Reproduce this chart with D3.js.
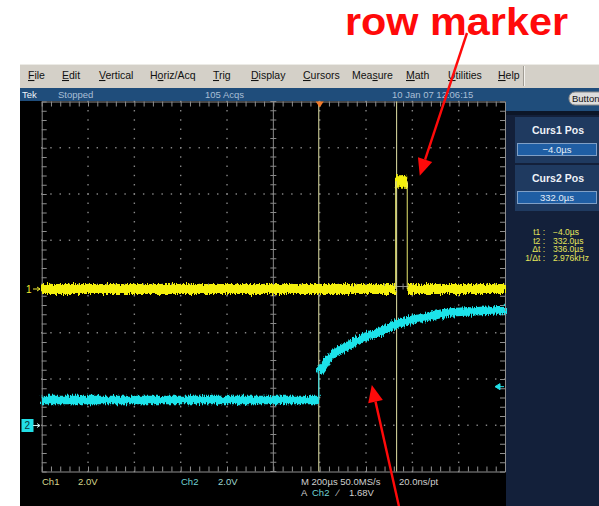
<!DOCTYPE html>
<html>
<head>
<meta charset="utf-8">
<script src="https://cdn.jsdelivr.net/npm/d3@7"></script>
<style>
  body { margin: 0; background: #fff; }
  svg { display: block; }
  text { font-family: "Liberation Sans", Arial, sans-serif; }
</style>
</head>
<body>
<svg id="scope" width="599" height="506"></svg>
<script>
// Channel 1 (yellow): row-marker pulse, time in µs, level in volts
const ch1Time  = [-1200, 328, 328, 378, 378, 800];
const ch1Volts = [0, 0, 4.65, 4.65, 0, 0];

// Channel 2 (cyan): step at the trigger, then the charging curve
const ch2Time  = [-1200, -4, -4, 20, 43, 85, 129, 172, 215, 258, 327, 388, 431, 500, 561, 669, 800];
const ch2Volts = [1.10, 1.10, 2.30, 2.62, 2.95, 3.25, 3.48, 3.73, 3.90, 4.04, 4.37, 4.55, 4.63, 4.78, 4.89, 4.94, 5.00];

const cursorTimes = [-4, 332];
const triggerLevel = 1.68;
const timeWindow = [-1200, 800];   // 10 div × 200 µs
const voltsPerDiv = 2;

const menuItems   = ["File", "Edit", "Vertical", "Horiz/Acq", "Trig", "Display", "Cursors", "Measure", "Math", "Utilities", "Help"];
const menuHotkeys = [0, 0, 0, 1, 0, 0, 0, 3, 0, 0, 0];
const readoutLabels = ["t1 :", "t2 :", "\u0394t :", "1/\u0394t :"];

const svg = d3.select("#scope");

// ---- graticule geometry
const gLeft = 41.7, gRight = 505, gTop = 101.5, gBottom = 471.5;
const divX = d3.scaleLinear().domain([0, 10]).range([gLeft, gRight]);
const divY = d3.scaleLinear().domain([0, 8]).range([gTop, gBottom]);
const divPx = (gBottom - gTop) / 8;

const x = d3.scaleLinear().domain(timeWindow).range([gLeft, gRight]);
const ch1Ground = 289, ch2Ground = 425.5;
const y1 = d3.scaleLinear().domain([0, voltsPerDiv]).range([ch1Ground, ch1Ground - divPx]);
const y2 = d3.scaleLinear().domain([0, voltsPerDiv]).range([ch2Ground, ch2Ground - divPx]);

// ---- noise texture for the traces
const defs = svg.append("defs");
const flt = defs.append("filter").attr("id", "grain")
  .attr("filterUnits", "userSpaceOnUse")
  .attr("x", 0).attr("y", 0).attr("width", 599).attr("height", 506);
flt.append("feTurbulence").attr("type", "fractalNoise")
  .attr("baseFrequency", "0.95 0.12").attr("numOctaves", 2).attr("seed", 7).attr("result", "n");
flt.append("feDisplacementMap").attr("in", "SourceGraphic").attr("in2", "n")
  .attr("scale", 7).attr("xChannelSelector", "B").attr("yChannelSelector", "R");

// ---- window chrome
svg.append("rect").attr("x", 20).attr("y", 64).attr("width", 579).attr("height", 24).attr("fill", "#d4d0c8");
svg.append("line").attr("x1", 20).attr("x2", 599).attr("y1", 64.5).attr("y2", 64.5).attr("stroke", "#ecebe6");
svg.append("line").attr("x1", 523.5).attr("x2", 523.5).attr("y1", 66).attr("y2", 86).attr("stroke", "#a09c94");
svg.append("line").attr("x1", 524.5).attr("x2", 524.5).attr("y1", 66).attr("y2", 86).attr("stroke", "#f4f2ee");

const menuX = [28, 62, 99, 150, 213, 251, 303, 352, 406, 448, 498];
const menu = svg.append("g").attr("font-size", 10.5).attr("fill", "#111");
menuItems.forEach((m, i) => {
  const t = menu.append("text").attr("x", menuX[i]).attr("y", 79);
  const k = menuHotkeys[i];
  if (k > 0) t.append("tspan").text(m.slice(0, k));
  t.append("tspan").attr("text-decoration", "underline").text(m[k]);
  t.append("tspan").text(m.slice(k + 1));
});

svg.append("rect").attr("x", 20).attr("y", 88).attr("width", 579).attr("height", 13).attr("fill", "#1f4d7b");
svg.append("rect").attr("x", 506).attr("y", 88).attr("width", 93).attr("height", 23).attr("fill", "#1f4d7b");
const title = svg.append("g").attr("font-size", 9.5);
title.append("text").attr("x", 22).attr("y", 97.5).attr("fill", "#eef3f8").text("Tek");
title.append("text").attr("x", 58).attr("y", 97.5).attr("fill", "#a9bfd6").text("Stopped");
title.append("text").attr("x", 205).attr("y", 97.5).attr("fill", "#a9bfd6").text("105 Acqs");
title.append("text").attr("x", 392).attr("y", 97.5).attr("fill", "#a9bfd6").text("10 Jan 07 12:06:15");

// "Buttons" pill runs off the right edge of the window
defs.append("clipPath").attr("id", "winclip").append("rect")
  .attr("x", 0).attr("y", 0).attr("width", 599).attr("height", 506);
const pill = svg.append("g").attr("clip-path", "url(#winclip)");
pill.append("rect").attr("x", 569).attr("y", 92).attr("width", 44).attr("height", 13).attr("rx", 6)
  .attr("fill", "#dcdcdc").attr("stroke", "#8a8a8a");
pill.append("text").attr("x", 572).attr("y", 102).attr("font-size", 9.5).attr("fill", "#111").text("Button");

// ---- display area
svg.append("rect").attr("x", 20).attr("y", 101).attr("width", 486).attr("height", 405).attr("fill", "#000");

// side panel
svg.append("rect").attr("x", 506).attr("y", 111).attr("width", 93).attr("height", 395).attr("fill", "#13203a");
svg.append("rect").attr("x", 506).attr("y", 111).attr("width", 93).attr("height", 4).attr("fill", "#0c1628");
[{ y: 117, label: "Curs1 Pos", idx: 0 }, { y: 165, label: "Curs2 Pos", idx: 1 }].forEach(b => {
  svg.append("rect").attr("x", 515).attr("y", b.y).attr("width", 84).attr("height", 46).attr("fill", "#1f3a60");
  svg.append("text").attr("x", 558).attr("y", b.y + 17).attr("text-anchor", "middle")
    .attr("font-size", 10.5).attr("font-weight", "bold").attr("fill", "#eef2f8").text(b.label);
  svg.append("rect").attr("x", 517.5).attr("y", b.y + 26.5).attr("width", 79).attr("height", 12)
    .attr("fill", "#1f5ea4").attr("stroke", "#7f9fc6");
  svg.append("text").attr("x", 557).attr("y", b.y + 36).attr("text-anchor", "middle")
    .attr("font-size", 9.5).attr("fill", "#e4ecf6").text(d3.format(".1f")(cursorTimes[b.idx]) + "\u00b5s");
});
const dt = cursorTimes[1] - cursorTimes[0];
const readoutValues = [
  d3.format(".1f")(cursorTimes[0]) + "\u00b5s",
  d3.format(".1f")(cursorTimes[1]) + "\u00b5s",
  d3.format(".1f")(dt) + "\u00b5s",
  d3.format(".3f")(1e3 / dt) + "kHz"
];
const ro = svg.append("g").attr("font-size", 8.5).attr("fill", "#e6e65a");
readoutLabels.forEach((l, i) => {
  ro.append("text").attr("x", 545).attr("y", 235 + i * 8.5).attr("text-anchor", "end").text(l);
  ro.append("text").attr("x", 553).attr("y", 235 + i * 8.5).text(readoutValues[i]);
});

// ---- graticule
const grid = svg.append("g").attr("stroke", "#8a8a8a").attr("fill", "none");
const fine = d3.range(0, 50.5, 1).map(d => d / 5);
const fineY = d3.range(0, 40.5, 1).map(d => d / 5);

const axes = [
  d3.axisBottom(divX).tickValues(fine).tickSize(5).tickSizeOuter(0).tickFormat(""),
  d3.axisTop(divX).tickValues(fine).tickSize(5).tickSizeOuter(0).tickFormat(""),
  d3.axisRight(divY).tickValues(fineY).tickSize(5).tickSizeOuter(0).tickFormat(""),
  d3.axisLeft(divY).tickValues(fineY).tickSize(5).tickSizeOuter(0).tickFormat("")
];
const placement = [`translate(0,${gTop})`, `translate(0,${gBottom})`, `translate(${gLeft},0)`, `translate(${gRight},0)`];
axes.forEach((a, i) => {
  const g = svg.append("g").attr("transform", placement[i]).call(a);
  g.selectAll("path, line").attr("stroke", "#8f8f8f");
});

// center cross with fine ticks
const cx = divX(5), cy = divY(4);
grid.append("line").attr("x1", cx).attr("x2", cx).attr("y1", gTop).attr("y2", gBottom);
grid.append("line").attr("x1", gLeft).attr("x2", gRight).attr("y1", cy).attr("y2", cy);
grid.selectAll(".tx").data(fine).join("line")
  .attr("x1", d => divX(d)).attr("x2", d => divX(d)).attr("y1", cy - 3).attr("y2", cy + 3);
grid.selectAll(".ty").data(fineY).join("line")
  .attr("x1", cx - 3).attr("x2", cx + 3).attr("y1", d => divY(d)).attr("y2", d => divY(d));

// dotted division lines
const dots = [];
d3.range(1, 10).filter(i => i !== 5).forEach(i => fineY.forEach(k => dots.push([divX(i), divY(k)])));
d3.range(1, 8).filter(j => j !== 4).forEach(j => fine.forEach(k => dots.push([divX(k), divY(j)])));
svg.append("g").selectAll("rect").data(dots).join("rect")
  .attr("x", d => d[0] - 0.7).attr("y", d => d[1] - 0.7).attr("width", 1.4).attr("height", 1.4)
  .attr("fill", "#8c8c8c");

// ---- cursors
svg.append("g").selectAll("line").data(cursorTimes).join("line")
  .attr("x1", d => x(d)).attr("x2", d => x(d)).attr("y1", gTop).attr("y2", gBottom)
  .attr("stroke", "#cfcf98").attr("stroke-width", 1.1);

// split a trace into flat/curved runs and instantaneous edges
function splitTrace(times, volts) {
  const pts = times.map((t, i) => [t, volts[i]]);
  const runs = [], edges = [];
  let cur = [pts[0]];
  for (let i = 1; i < pts.length; i++) {
    if (pts[i][0] === pts[i - 1][0]) {
      if (cur.length > 1) runs.push(cur);
      edges.push([pts[i - 1], pts[i]]);
      cur = [pts[i]];
    } else cur.push(pts[i]);
  }
  if (cur.length > 1) runs.push(cur);
  return { runs, edges };
}

// ---- channel 2 trace
const t2 = splitTrace(ch2Time, ch2Volts);
const line2 = d3.line().x(d => x(d[0])).y(d => y2(d[1])).curve(d3.curveMonotoneX);
svg.append("g").attr("filter", "url(#grain)").selectAll("path").data(t2.runs).join("path")
  .attr("d", line2).attr("fill", "none")
  .attr("stroke", "#1fe3ea").attr("stroke-width", 8.5).attr("stroke-linejoin", "round");
svg.append("g").selectAll("path").data(t2.edges).join("path")
  .attr("d", line2).attr("stroke", "#40d8dc").attr("stroke-width", 1.2);

// ---- channel 1 trace
const t1 = splitTrace(ch1Time, ch1Volts);
const line1 = d3.line().x(d => x(d[0])).y(d => y1(d[1]));
svg.append("g").attr("filter", "url(#grain)").selectAll("path").data(t1.runs).join("path")
  .attr("d", line1).attr("fill", "none").attr("stroke", "#f4f00e")
  .attr("stroke-width", d => d[0][1] > 1 ? 12.5 : 10);
svg.append("g").selectAll("path").data(t1.edges).join("path")
  .attr("d", line1).attr("stroke", "#e8e870").attr("stroke-width", 1);

// ---- markers
svg.append("path")
  .attr("d", `M${x(0) - 4},${gTop} L${x(0) + 4},${gTop} L${x(0)},${gTop + 6} Z`)
  .attr("fill", "#f07a2a");
svg.append("text").attr("x", 26).attr("y", ch1Ground + 3.5).attr("font-size", 10).attr("fill", "#f0ec30").text("1");
svg.append("path").attr("d", `M33,${ch1Ground} L40,${ch1Ground} M37,${ch1Ground - 2} L40,${ch1Ground} L37,${ch1Ground + 2}`)
  .attr("stroke", "#f0ec30").attr("fill", "none");
svg.append("rect").attr("x", 21.5).attr("y", ch2Ground - 6.5).attr("width", 12).attr("height", 13).attr("fill", "#22dfe6");
svg.append("text").attr("x", 24.5).attr("y", ch2Ground + 3.5).attr("font-size", 10).attr("fill", "#0b3a40").text("2");
svg.append("path").attr("d", `M33,${ch2Ground} L40,${ch2Ground} M37,${ch2Ground - 2} L40,${ch2Ground} L37,${ch2Ground + 2}`)
  .attr("stroke", "#c8e8ea").attr("fill", "none");
const ty = y2(triggerLevel);
svg.append("path").attr("d", `M${gRight - 10},${ty} L${gRight - 5},${ty - 3} L${gRight - 5},${ty + 3} Z M${gRight - 6},${ty} L${gRight - 1},${ty}`)
  .attr("fill", "#22dfe6").attr("stroke", "#22dfe6").attr("stroke-width", 1);

// ---- status line
const st = svg.append("g").attr("font-size", 9.5);
st.append("text").attr("x", 42).attr("y", 485).attr("fill", "#d6d68c").text("Ch1");
st.append("text").attr("x", 78).attr("y", 485).attr("fill", "#d6d68c").text(d3.format(".1f")(voltsPerDiv) + "V");
st.append("text").attr("x", 181).attr("y", 485).attr("fill", "#6fd2d2").text("Ch2");
st.append("text").attr("x", 218).attr("y", 485).attr("fill", "#9fd6d0").text(d3.format(".1f")(voltsPerDiv) + "V");
st.append("text").attr("x", 301).attr("y", 485).attr("fill", "#cfcfcf").text("M 200\u00b5s 50.0MS/s");
st.append("text").attr("x", 399).attr("y", 485).attr("fill", "#cfcfcf").text("20.0ns/pt");
st.append("text").attr("x", 301).attr("y", 495.5).attr("fill", "#cfcfcf").text("A");
st.append("text").attr("x", 312).attr("y", 495.5).attr("fill", "#6fd2d2").text("Ch2");
st.append("text").attr("x", 337).attr("y", 495.5).attr("fill", "#cfcfcf").text("\u2215");
st.append("text").attr("x", 349).attr("y", 495.5).attr("fill", "#cfcfcf").text(d3.format(".2f")(triggerLevel) + "V");

// ---- annotations
const red = "#ff0a0a";
svg.append("text").attr("x", 345).attr("y", 35).attr("font-size", 38).attr("font-weight", "bold")
  .attr("fill", red).attr("textLength", 223).attr("lengthAdjust", "spacingAndGlyphs").text("row marker");

function arrow(tail, tip) {
  const ang = Math.atan2(tip[1] - tail[1], tip[0] - tail[0]);
  const len = 17, hw = 7.5;
  const bx = tip[0] - len * Math.cos(ang), by = tip[1] - len * Math.sin(ang);
  const px = -Math.sin(ang) * hw, py = Math.cos(ang) * hw;
  svg.append("line").attr("x1", tail[0]).attr("y1", tail[1]).attr("x2", bx).attr("y2", by)
    .attr("stroke", red).attr("stroke-width", 2.4);
  svg.append("path").attr("d", `M${tip[0]},${tip[1]} L${bx + px},${by + py} L${bx - px},${by - py} Z`).attr("fill", red);
}
arrow([467, 33], [x(432), y1(4.9)]);
arrow([402, 520], [x(225), y2(1.75)]);
</script>
</body>
</html>
